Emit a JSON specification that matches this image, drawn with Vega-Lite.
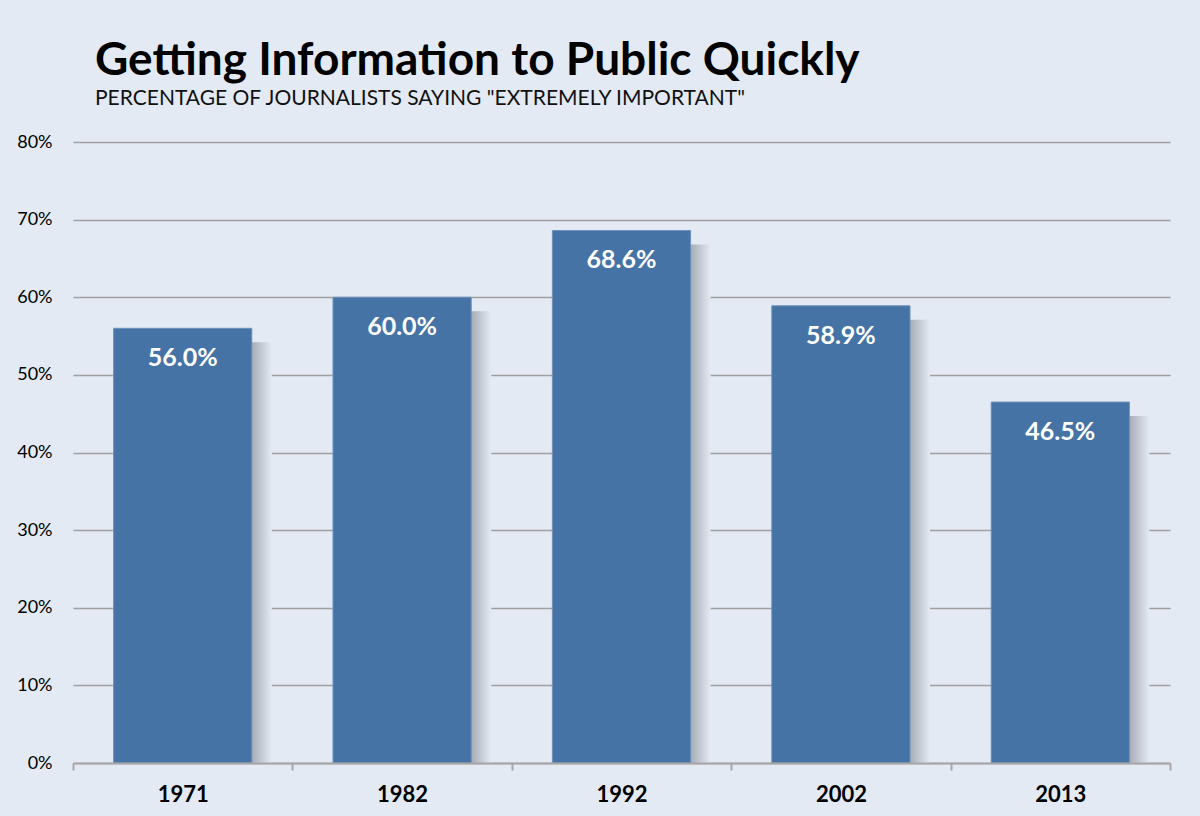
{
  "$schema": "https://vega.github.io/schema/vega-lite/v6.json",
  "autosize": {"type": "none"},
  "width": 1097,
  "height": 621,
  "padding": {"left": 73, "top": 142, "right": 30, "bottom": 53},
  "background": "#e3eaf4",
  "title": {
    "text": "Getting Information to Public Quickly",
    "subtitle": "PERCENTAGE OF JOURNALISTS SAYING \"EXTREMELY IMPORTANT\"",
    "anchor": "start",
    "frame": "group",
    "dx": 22,
    "offset": 23,
    "font": "Lato",
    "fontSize": 46,
    "fontWeight": "bold",
    "color": "#000000",
    "subtitleFont": "Lato",
    "subtitleFontSize": 21,
    "subtitleColor": "#111111",
    "subtitlePadding": 3
  },
  "data": {
    "values": [
      {"year": "1971", "value": 0.560},
      {"year": "1982", "value": 0.600},
      {"year": "1992", "value": 0.686},
      {"year": "2002", "value": 0.589},
      {"year": "2013", "value": 0.465}
    ]
  },
  "encoding": {
    "x": {
      "field": "year",
      "type": "nominal",
      "sort": null,
      "scale": {"paddingInner": 0, "paddingOuter": 0},
      "axis": {
        "title": null,
        "labelFont": "Lato",
        "labelFontSize": 22,
        "labelFontWeight": "bold",
        "labelColor": "#000000",
        "labelPadding": 14,
        "labelAngle": 0,
        "domainColor": "#a6a6a6",
        "domainWidth": 2,
        "tickColor": "#a6a6a6",
        "tickWidth": 2,
        "tickSize": 7,
        "tickBand": "extent",
        "grid": false,
        "zindex": 1
      }
    },
    "y": {
      "field": "value",
      "type": "quantitative",
      "scale": {"domain": [0, 0.8], "nice": false},
      "axis": {
        "title": null,
        "values": [0, 0.1, 0.2, 0.3, 0.4, 0.5, 0.6, 0.7, 0.8],
        "format": ".0%",
        "labelFont": "Lato",
        "labelFontSize": 18,
        "labelColor": "#000000",
        "labelPadding": 21,
        "ticks": false,
        "domain": false,
        "grid": true,
        "gridColor": "#a0a0a0",
        "gridWidth": 1.5
      }
    }
  },
  "layer": [
    {
      "mark": {
        "type": "bar",
        "clip": true,
        "width": {"band": 0.63},
        "xOffset": 20,
        "yOffset": 14,
        "fill": {
          "gradient": "linear",
          "x1": 0, "x2": 1, "y1": 0, "y2": 0,
          "stops": [
            {"offset": 0, "color": "#9ca1a9"},
            {"offset": 0.83, "color": "#9ca1a9"},
            {"offset": 1, "color": "#e3eaf4"}
          ]
        }
      }
    },
    {
      "mark": {
        "type": "bar",
        "width": {"band": 0.63},
        "color": "#4573a5",
        "stroke": "#6f93bb",
        "strokeWidth": 1
      }
    },
    {
      "mark": {
        "type": "text",
        "font": "Lato",
        "fontSize": 25,
        "fontWeight": "bold",
        "color": "#ffffff",
        "baseline": "alphabetic",
        "dy": 38
      },
      "encoding": {
        "text": {"field": "value", "type": "quantitative", "format": ".1%"}
      }
    }
  ],
  "config": {
    "view": {"stroke": null}
  }
}
